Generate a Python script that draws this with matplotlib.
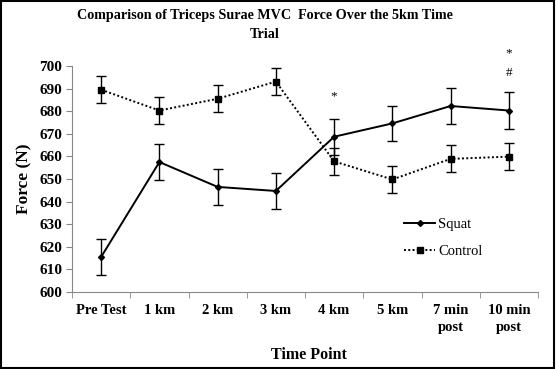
import matplotlib
matplotlib.use("Agg")
import matplotlib.pyplot as plt
import numpy as np

categories = ["Pre Test", "1 km", "2 km", "3 km", "4 km", "5 km", "7 min\npost", "10 min\npost"]
squat = [615.5, 657.5, 646.5, 644.7, 668.7, 674.6, 682.3, 680.3]
squat_err = [8, 8, 8, 8, 8, 7.8, 8, 8]
control = [689.5, 680.3, 685.5, 693.1, 657.8, 649.8, 658.9, 659.9]
control_err = [6, 6, 6, 6, 6, 6, 6, 6]
sig_marks = {4: ["*"], 7: ["*", "#"]}

plt.rcParams["font.family"] = ["Liberation Serif", "DejaVu Serif"]

fig = plt.figure(figsize=(5.56, 3.69), dpi=100)
ax = fig.add_axes([72 / 556, 1 - 292 / 369, (538 - 72) / 556, (292 - 66) / 369])

x = np.arange(len(categories))
ax.errorbar(x, squat, yerr=squat_err, color="black", linestyle="-", linewidth=1.4,
            marker="D", markersize=3, capsize=3.5, elinewidth=1.0, capthick=1.0, label="Squat")
ax.errorbar(x, control, yerr=control_err, color="black", linestyle=(0, (1, 1.2)), linewidth=1.4,
            marker="s", markersize=5, capsize=3.5, elinewidth=1.0, capthick=1.0, label="Control")

# significance markers above the points
for idx, marks in sig_marks.items():
    for k, m in enumerate(marks):
        ax.text(x[idx], 686.5 + (len(marks) - 1 - k) * 8.6 + (10.3 if idx == 7 else 0), m,
                ha="center", va="center", fontsize=9.5, clip_on=False)

ax.set_xlim(-0.5, len(categories) - 0.5)
ax.set_ylim(600, 700)
ax.set_yticks(np.arange(600, 701, 10))
ax.set_xticks(x)
ax.set_xticklabels(categories, fontweight="bold", fontsize=10.5, linespacing=1.4,
                   verticalalignment="top")
ax.set_xticks(np.arange(-0.5, len(categories)), minor=True)
ax.tick_params(axis="x", which="major", length=0, pad=9)
ax.tick_params(axis="x", which="minor", length=4, color="#888888", direction="out")
ax.tick_params(axis="y", length=4, color="#888888", direction="out", pad=3, labelsize=11)
for lab in ax.get_yticklabels():
    lab.set_fontweight("bold")

ax.spines["top"].set_visible(False)
ax.spines["right"].set_visible(False)
ax.spines["left"].set_color("#888888")
ax.spines["bottom"].set_color("#888888")

ax.set_ylabel("Force (N)", fontweight="bold", fontsize=12.5, labelpad=5)
fig.text(309 / 556, 1 - 355 / 369, "Time Point", ha="center", va="center",
         fontweight="bold", fontsize=11.5)
fig.text(265 / 556, 1 - 16 / 369, "Comparison of Triceps Surae MVC  Force Over the 5km Time",
         ha="center", va="center", fontweight="bold", fontsize=10.2)
fig.text(265 / 556, 1 - 34 / 369, "Trial", ha="center", va="center",
         fontweight="bold", fontsize=10.2)

handles, labels = ax.get_legend_handles_labels()
handles = [h[0] for h in handles]
ax.legend(handles, labels, loc="upper left", bbox_to_anchor=(0.685, 0.385), frameon=False,
          fontsize=10.5, handlelength=2.1, handletextpad=0.2, labelspacing=0.95)

fig.patches.append(plt.Rectangle((0.002, 0.003), 0.995, 0.994, transform=fig.transFigure,
                                 fill=False, edgecolor="black", linewidth=1.5))

fig.savefig("out.png", dpi=100)
